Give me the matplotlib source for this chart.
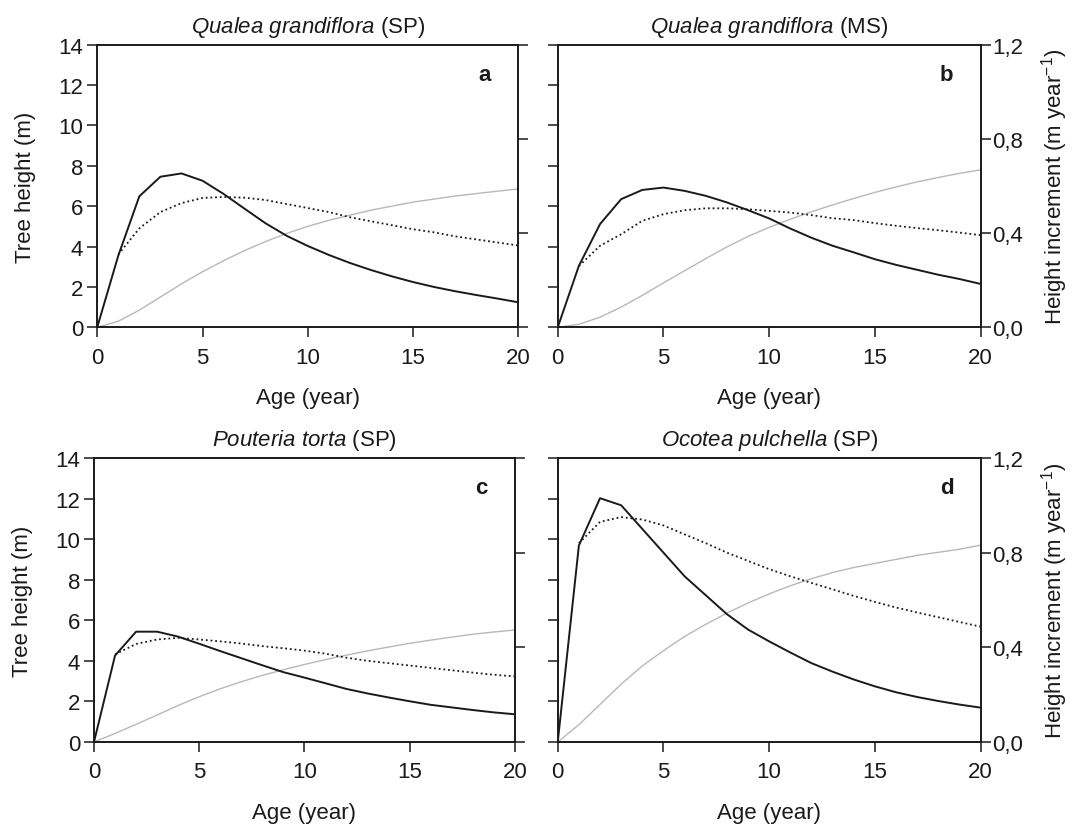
import matplotlib
matplotlib.use("Agg")
import matplotlib.pyplot as plt
from matplotlib.ticker import FuncFormatter

plt.rcParams["font.family"] = ["Liberation Sans", "DejaVu Sans"]
plt.rcParams["mathtext.fontset"] = "custom"
plt.rcParams["mathtext.rm"] = "Liberation Sans"
plt.rcParams["mathtext.it"] = "Liberation Sans:italic"
plt.rcParams["mathtext.bf"] = "Liberation Sans:bold"

ages = list(range(21))

# Tree height (m), left axis
height_a = [0, 0.3, 0.85, 1.5, 2.15, 2.75, 3.3, 3.8, 4.25, 4.65, 5.0, 5.3,
            5.55, 5.8, 6.0, 6.2, 6.35, 6.5, 6.62, 6.74, 6.85]
height_b = [0, 0.15, 0.5, 1.0, 1.58, 2.2, 2.8, 3.4, 3.98, 4.5, 4.95, 5.35,
            5.72, 6.06, 6.38, 6.68, 6.95, 7.2, 7.42, 7.62, 7.8]
height_c = [0, 0.42, 0.87, 1.33, 1.8, 2.23, 2.62, 2.97, 3.28, 3.56, 3.82, 4.06,
            4.28, 4.49, 4.68, 4.86, 5.02, 5.17, 5.31, 5.42, 5.52]
height_d = [0, 0.85, 1.85, 2.85, 3.75, 4.5, 5.2, 5.8, 6.35, 6.85, 7.3, 7.7,
            8.05, 8.35, 8.6, 8.8, 9.0, 9.2, 9.35, 9.5, 9.7]

# Current annual height increment (m/year), right axis
cai_a = [0, 0.304, 0.556, 0.639, 0.653, 0.622, 0.566, 0.503, 0.441, 0.388,
         0.345, 0.307, 0.273, 0.243, 0.216, 0.192, 0.171, 0.153, 0.137, 0.122, 0.106]
cai_b = [0, 0.261, 0.438, 0.544, 0.583, 0.593, 0.579, 0.558, 0.53, 0.497,
         0.462, 0.419, 0.38, 0.346, 0.318, 0.289, 0.265, 0.244, 0.223, 0.205, 0.184]
cai_c = [0, 0.365, 0.466, 0.466, 0.445, 0.415, 0.384, 0.354, 0.324, 0.295,
         0.272, 0.248, 0.224, 0.205, 0.188, 0.172, 0.157, 0.146, 0.135, 0.125, 0.117]
cai_d = [0, 0.83, 1.03, 1.0, 0.9, 0.8, 0.70, 0.62, 0.54, 0.475, 0.425,
         0.378, 0.333, 0.297, 0.264, 0.235, 0.21, 0.19, 0.173, 0.158, 0.145]

# Mean annual height increment (m/year) from age 1 onward, right axis
mai_a = [0.309, 0.42, 0.489, 0.527, 0.549, 0.553, 0.55, 0.54, 0.523, 0.506,
         0.489, 0.467, 0.45, 0.433, 0.416, 0.403, 0.386, 0.373, 0.36, 0.347]
mai_b = [0.26, 0.346, 0.395, 0.452, 0.48, 0.497, 0.505, 0.505, 0.501, 0.494,
         0.487, 0.476, 0.463, 0.455, 0.442, 0.431, 0.421, 0.412, 0.402, 0.391]
mai_c = [0.37, 0.414, 0.433, 0.44, 0.433, 0.425, 0.416, 0.405, 0.396, 0.386,
         0.373, 0.356, 0.343, 0.333, 0.323, 0.313, 0.303, 0.293, 0.284, 0.277]
mai_d = [0.84, 0.93, 0.95, 0.94, 0.915, 0.877, 0.84, 0.80, 0.765, 0.73,
         0.70, 0.672, 0.645, 0.617, 0.592, 0.568, 0.547, 0.527, 0.507, 0.487]

species = ["Qualea grandiflora", "Qualea grandiflora", "Pouteria torta", "Ocotea pulchella"]
sites = ["SP", "MS", "SP", "SP"]
letters = ["a", "b", "c", "d"]

heights = [height_a, height_b, height_c, height_d]
cais = [cai_a, cai_b, cai_c, cai_d]
mais = [mai_a, mai_b, mai_c, mai_d]

rects = [
    [0.0906, 0.6035, 0.3926, 0.3415],
    [0.5198, 0.6035, 0.3941, 0.3415],
    [0.0876, 0.1027, 0.3922, 0.3430],
    [0.5198, 0.1027, 0.3941, 0.3430],
]

FS = 16
INK = "#1a1a1a"
comma = FuncFormatter(lambda v, pos: f"{v:.1f}".replace(".", ","))

fig = plt.figure(figsize=(10.73, 8.28), dpi=100)

for i in range(4):
    ax = fig.add_axes(rects[i])
    ax2 = ax.twinx()

    ax.plot(ages, heights[i], color="#b8b8b8", lw=1.0)
    ax2.plot(ages, cais[i], color=INK, lw=1.4)
    ax2.plot(ages[1:], mais[i], color=INK, lw=1.3, ls=(0, (1, 1.6)))

    ax.set_xlim(0, 20)
    ax.set_ylim(0, 14)
    ax2.set_ylim(0, 1.2)
    ax.set_xticks([0, 5, 10, 15, 20])
    ax.set_yticks(range(0, 15, 2))
    ax2.set_yticks([0, 0.4, 0.8, 1.2])
    ax2.yaxis.set_major_formatter(comma)

    for a in (ax, ax2):
        a.tick_params(direction="out", length=7, width=1.1, colors=INK,
                      labelsize=FS)
        for s in a.spines.values():
            s.set_linewidth(1.2)
            s.set_color(INK)
    ax.tick_params(axis="x", pad=7)
    ax.tick_params(axis="y", pad=3)
    ax2.tick_params(axis="y", pad=1.5)

    left_col = i % 2 == 0
    if left_col:
        ax2.set_yticklabels([])
        ax.set_ylabel("Tree height (m)", fontsize=FS, color=INK)
        ax.yaxis.set_label_coords(-0.145, 0.5)
    else:
        ax.set_yticklabels([])
        ax2.set_ylabel("Height increment (m year$^{-1}$)", fontsize=FS, color=INK)
        ax2.yaxis.set_label_coords(1.138, 0.5)

    ax.set_xlabel("Age (year)", fontsize=FS, color=INK, labelpad=14)
    sp = species[i].replace(" ", r"\ ")
    ax.set_title(rf"$\mathit{{{sp}}}$ ({sites[i]})", fontsize=FS, color=INK, pad=9)
    ax.text(0.92, 0.895, letters[i], transform=ax.transAxes, fontsize=FS,
            fontweight="bold", ha="center", va="center", color=INK)

fig.savefig("out.png", dpi=100)
